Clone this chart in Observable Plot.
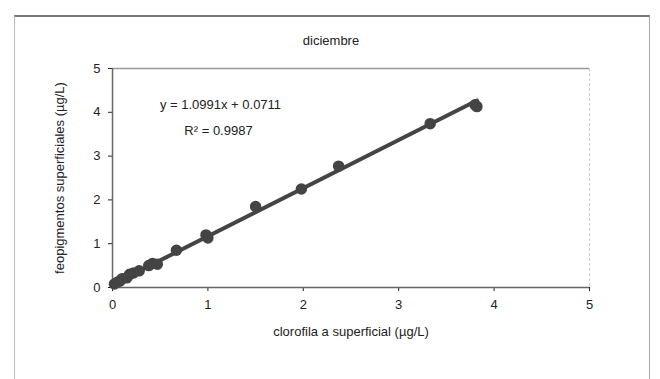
<!DOCTYPE html>
<html>
<head>
<meta charset="utf-8">
<script src="https://cdn.jsdelivr.net/npm/d3@7"></script>
<script src="https://cdn.jsdelivr.net/npm/@observablehq/plot@0.6"></script>
<style>
  html, body { margin: 0; padding: 0; background: #fff; }
  #wrap { position: relative; width: 660px; height: 379px; overflow: hidden; font-family: "Liberation Sans", Arial, sans-serif; }
  #frame { position: absolute; left: 14px; top: 15px; width: 636px; height: 400px;
           border-top: 2px solid #777; border-left: 1px solid #bbb; border-right: 1px solid #aaa; box-sizing: border-box; }
  #chart { position: absolute; left: 0; top: 0; }
</style>
</head>
<body>
<div id="wrap"><div id="frame"></div><div id="chart"></div></div>
<script>
const title = "diciembre";
const xLabel = "clorofila a superficial (µg/L)";
const yLabel = "feopigmentos superficiales (µg/L)";
const xTicks = [0, 1, 2, 3, 4, 5];
const yTicks = [0, 1, 2, 3, 4, 5];
const chlA = [0.02, 0.05, 0.08, 0.10, 0.15, 0.18, 0.22, 0.28, 0.38, 0.42, 0.47, 0.67, 0.98, 1.00, 1.50, 1.98, 2.37, 3.33, 3.80, 3.82];
const feo  = [0.08, 0.12, 0.15, 0.20, 0.22, 0.30, 0.33, 0.38, 0.50, 0.55, 0.53, 0.85, 1.20, 1.13, 1.85, 2.25, 2.77, 3.74, 4.17, 4.13];
const slope = 1.0991;
const intercept = 0.0711;
const eqText = "y = 1.0991x + 0.0711";
const r2Text = "R² = 0.9987";

const points = chlA.map((x, i) => ({x, y: feo[i]}));
const xMin = d3.min(chlA), xMax = d3.max(chlA);
const fit = [xMin, xMax].map(x => ({x, y: slope * x + intercept}));

const dark = "#444";
const plot = Plot.plot({
  width: 660,
  height: 379,
  marginLeft: 112,
  marginRight: 71,
  marginTop: 68,
  marginBottom: 92,
  style: {fontFamily: "'Liberation Sans', Arial, sans-serif", fontSize: "13px", color: "#222", background: "transparent"},
  x: {domain: [0, 5], ticks: xTicks, tickFormat: "d", tickSize: 4, tickPadding: 8, label: xLabel, labelAnchor: "center", labelArrow: "none", labelOffset: 48},
  y: {domain: [0, 5], ticks: yTicks, tickFormat: "d", tickSize: 4, tickPadding: 8, label: yLabel, labelAnchor: "center", labelArrow: "none", labelOffset: 58},
  marks: [
    Plot.ruleY([5], {stroke: "#999", strokeWidth: 1.5}),
    Plot.ruleX([5], {stroke: "#ccc", strokeWidth: 1, strokeDasharray: "3,2"}),
    Plot.ruleX([0], {stroke: "#666", strokeWidth: 1.5}),
    Plot.ruleY([0], {stroke: "#666", strokeWidth: 1.5}),
    Plot.line(fit, {x: "x", y: "y", stroke: dark, strokeWidth: 4}),
    Plot.dot(points, {x: "x", y: "y", r: 5, fill: dark, stroke: dark}),
    Plot.text([eqText], {frameAnchor: "top-left", dx: 108, dy: 31, textAnchor: "middle", fill: "#222", fontSize: 13}),
    Plot.text([r2Text], {frameAnchor: "top-left", dx: 106, dy: 57, textAnchor: "middle", fill: "#222", fontSize: 13}),
    Plot.text([title], {frameAnchor: "top", dx: -20, dy: -33, fill: "#222", fontSize: 13})
  ]
});
document.getElementById("chart").appendChild(plot);
</script>
</body>
</html>
